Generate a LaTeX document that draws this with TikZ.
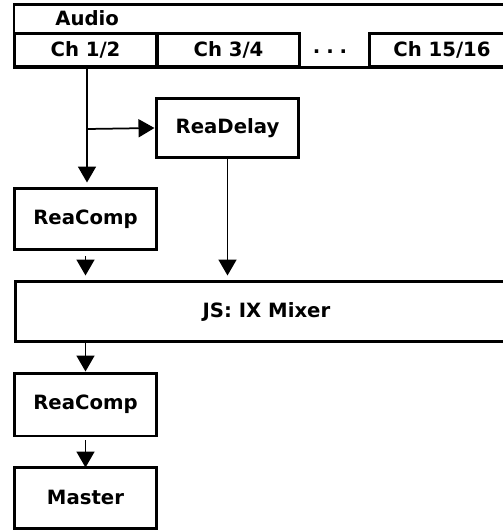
\documentclass[tikz,border=0pt]{standalone}
\usepackage{fontspec}
\setmainfont{DejaVu Sans}
\usetikzlibrary{arrows.meta, positioning}

\tikzset{
    boxfont/.style={font=\bfseries\fontsize{11.2}{13}\selectfont},
    box/.style={draw, line width=0.06cm, inner sep=0pt, boxfont},
    conn/.style={line width=0.035cm, -{Triangle[length=0.32cm, width=0.36cm]}},
    gap/.style={shorten >=0.08cm}
}

\begin{document}
\begin{tikzpicture}[x=0.02cm, y=-0.02cm]
    \useasboundingbox (0,0) rectangle (503,531);

    % Kopfzeile: Audio und Kanaele
    \draw[line width=0.06cm] (14,4) rectangle (540,67);
    \node[boxfont, anchor=west, inner sep=0pt] (audio) at (55,18) {Audio};
    \node[box, minimum width=2.86cm, minimum height=0.68cm] (ch12) at (85.5,50) {Ch 1/2};
    \node[box, minimum width=2.86cm, minimum height=0.68cm] (ch34) at (228.5,50) {Ch 3/4};
    \node[boxfont] (dots) at (330,52) {.\hspace{0.12cm}.\hspace{0.12cm}.};
    \node[box, minimum width=3.4cm, minimum height=0.68cm, anchor=west] (ch1516) at (368,50) {\hspace{-0.5cm}Ch 15/16};

    % Effekte
    \node[box, minimum width=2.86cm, minimum height=1.2cm] (delay) at (227.5,128) {ReaDelay};
    \node[box, minimum width=2.86cm, minimum height=1.24cm] (comp1) at (85.5,219) {ReaComp};
    \node[box, minimum width=10.6cm, minimum height=1.22cm, anchor=west] (mixer) at (14,311.5) {\hspace{-0.56cm}JS: IX Mixer};
    \node[box, minimum width=2.86cm, minimum height=1.26cm] (comp2) at (85.5,404.5) {ReaComp};
    \node[box, minimum width=2.86cm, minimum height=1.22cm] (master) at (85.5,497.5) {Master};

    % Verbindungen
    \coordinate (split) at (87,129);
    \draw[conn, gap] (ch12.south -| split) -- (comp1.north -| split);
    \draw[conn] (split) -- (delay.west);
    \draw[conn, gap] (delay.south) -- (mixer.north -| delay.south);
    \draw[conn, gap] ([yshift=-0.1cm]comp1.south) -- (mixer.north -| comp1.south);
    \draw[conn] (mixer.south -| comp2.north) -- (comp2.north);
    \draw[conn] ([yshift=-0.06cm]comp2.south) -- ([yshift=-0.04cm]master.north);
\end{tikzpicture}
\end{document}
